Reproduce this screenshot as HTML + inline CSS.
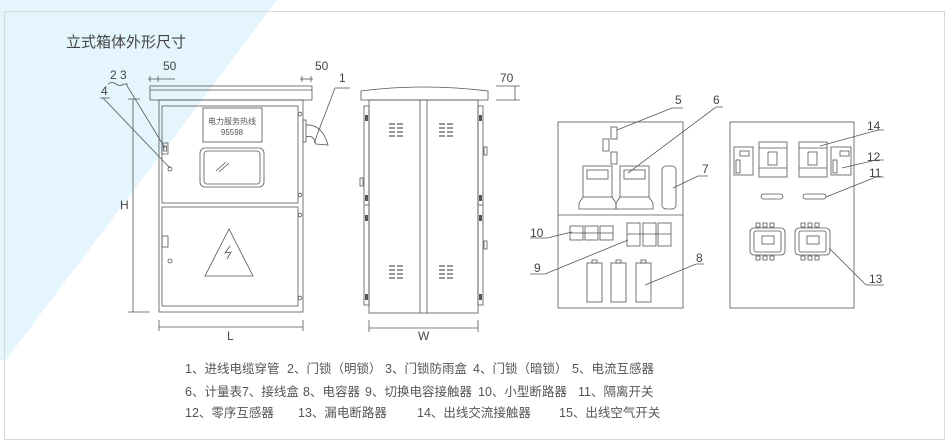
<!DOCTYPE html>
<html><head><meta charset="utf-8">
<style>
html,body{margin:0;padding:0;background:#fff;}
body{width:952px;height:445px;overflow:hidden;}
svg{display:block;font-family:"Liberation Sans","Noto Sans CJK SC",sans-serif;}
</style></head>
<body>
<svg width="952" height="445" viewBox="0 0 952 445" xmlns="http://www.w3.org/2000/svg">
<polygon points="0,0 277,0 6,360 0,360" fill="#e4f5fd"/>
<rect x="4.5" y="11.5" width="940" height="428" fill="none" stroke="#d8d8d8"/>
<text x="66" y="47" font-size="15" fill="#444">立式箱体外形尺寸</text>

<g fill="none" stroke="#555" stroke-width="0.8">
<rect x="150" y="86" width="162" height="14"/>
<line x1="150" y1="90" x2="312" y2="90"/>
<rect x="159" y="100" width="144" height="212"/>
<rect x="162" y="106" width="136" height="97"/>
<rect x="162" y="207" width="136" height="99"/>
<rect x="203" y="108" width="59" height="34"/>
<rect x="200" y="148" width="64" height="39" rx="5"/>
<rect x="204" y="151" width="56" height="33" rx="3"/>
<line x1="216" y1="171" x2="226" y2="162"/><line x1="219" y1="172" x2="229" y2="163"/>
<rect x="162" y="143" width="6" height="11"/><rect x="163.5" y="146" width="3" height="5"/>
<circle cx="170" cy="169" r="2"/>
<rect x="162" y="236" width="6" height="11"/>
<circle cx="170" cy="261" r="2"/>
<polygon points="229,229 205,276 253,276"/>
<polyline points="230,246 225,253 231,252 227,259"/>
<circle cx="300" cy="114" r="1.8"/><circle cx="300" cy="195" r="1.8"/>
<circle cx="300" cy="215" r="1.8"/><circle cx="300" cy="298" r="1.8"/>
<rect x="303" y="120" width="3" height="22"/>
<path d="M306,125 Q322,124 328,145 L316,144 Q313,134 306,137"/>
<polyline points="335,88 350,88"/><line x1="335" y1="88" x2="314" y2="143"/>
<path d="M108,84 q4,-3 8,0 q4,3 8,0 l4,0"/>
<line x1="126" y1="84" x2="165" y2="148"/>
<line x1="100" y1="98" x2="110" y2="98"/>
<line x1="103" y1="98" x2="170" y2="168"/>
<line x1="150" y1="76" x2="150" y2="82"/><line x1="158" y1="76" x2="158" y2="82"/>
<line x1="148" y1="79" x2="175" y2="79"/>
<line x1="302" y1="76" x2="302" y2="82"/><line x1="311" y1="76" x2="311" y2="82"/>
<line x1="300" y1="79" x2="313" y2="79"/>
<line x1="133" y1="99" x2="133" y2="312"/>
<line x1="128" y1="99" x2="140" y2="99"/><line x1="128" y1="312" x2="150" y2="312"/>
<line x1="159" y1="327" x2="303" y2="327"/>
<line x1="159" y1="320" x2="159" y2="331"/><line x1="303" y1="320" x2="303" y2="331"/>

<path d="M361,100 L361,91 Q392,87 424,87 Q456,87 488,91 L488,100 Z"/>
<rect x="369" y="100" width="109" height="213"/>
<line x1="420" y1="100" x2="420" y2="313"/><line x1="427" y1="100" x2="427" y2="313"/>
<rect x="364" y="106" width="5" height="199"/>
<rect x="478" y="106" width="5" height="199"/>
<line x1="364" y1="205" x2="369" y2="205"/><line x1="478" y1="205" x2="483" y2="205"/>
<rect x="484" y="147" width="3" height="8"/><rect x="484" y="241" width="3" height="8"/>
<rect x="360" y="178" width="3" height="8"/>
<line x1="369" y1="328" x2="478" y2="328"/>
<line x1="369" y1="320" x2="369" y2="332"/><line x1="478" y1="320" x2="478" y2="332"/>
<line x1="496" y1="86" x2="520" y2="86"/><line x1="496" y1="100" x2="520" y2="100"/>
<line x1="515" y1="86" x2="515" y2="100"/>
</g>
<g fill="#555">
<rect x="365" y="115" width="3" height="6"/><rect x="365" y="195" width="3" height="6"/>
<rect x="365" y="215" width="3" height="6"/><rect x="365" y="294" width="3" height="6"/>
<rect x="479" y="115" width="3" height="6"/><rect x="479" y="195" width="3" height="6"/>
<rect x="479" y="215" width="3" height="6"/><rect x="479" y="294" width="3" height="6"/>
</g>
<g stroke="#777" stroke-width="1.4" fill="none">
<path id="v" d="M389,124h6M389,128h6M389,132h6M389,136h6M397,124h6M397,128h6M397,132h6M397,136h6"/>
<use href="#v" x="50"/><use href="#v" y="142"/><use href="#v" x="50" y="142"/>
</g>

<g fill="none" stroke="#555" stroke-width="0.8">
<rect x="558" y="122" width="125" height="186"/>
<line x1="558" y1="215" x2="683" y2="215"/>
<rect x="611" y="127" width="6" height="12"/><rect x="603" y="139" width="6" height="12"/><rect x="611" y="152" width="6" height="12"/>
<rect x="583" y="166" width="29" height="31"/><rect x="587" y="170" width="21" height="9"/>
<path d="M583,197 L579,203 L579,209 L616,209 L616,203 L612,197"/>
<rect x="620" y="166" width="29" height="31"/><rect x="624" y="170" width="21" height="9"/>
<path d="M620,197 L616,203 L616,209 L653,209 L653,203 L649,197"/>
<rect x="662" y="166" width="14" height="43" rx="4"/>
<rect x="570" y="226" width="13" height="14"/><rect x="585" y="226" width="13" height="14"/><rect x="600" y="226" width="13" height="14"/>
<line x1="570" y1="233" x2="613" y2="233"/>
<rect x="627" y="223" width="13" height="23"/><rect x="643" y="223" width="13" height="23"/><rect x="658" y="223" width="13" height="23"/>
<line x1="627" y1="234" x2="671" y2="234"/>
<rect x="587" y="263" width="15" height="39"/><rect x="611" y="263" width="15" height="39"/><rect x="636" y="263" width="15" height="39"/>
<rect x="592" y="260" width="5" height="3"/><rect x="616" y="260" width="5" height="3"/><rect x="641" y="260" width="5" height="3"/>
<polyline points="617,130 672,108 683,108"/>
<polyline points="628,173 716,107 723,107"/>
<polyline points="673,188 698,176 708,176"/>
<polyline points="530,238 547,238 572,232"/>
<polyline points="530,274 545,274 628,240"/>
<polyline points="645,285 696,264 704,264"/>

<rect x="730" y="122" width="124" height="186"/>
<rect x="734" y="147" width="19" height="28"/><rect x="740" y="151" width="9" height="5"/><rect x="736" y="160" width="4" height="13"/>
<rect x="759" y="142" width="28" height="35"/><line x1="759" y1="148" x2="787" y2="148"/><line x1="759" y1="168" x2="787" y2="168"/><rect x="768" y="152" width="9" height="13"/>
<rect x="799" y="142" width="28" height="35"/><line x1="799" y1="148" x2="827" y2="148"/><line x1="799" y1="168" x2="827" y2="168"/><rect x="808" y="152" width="9" height="13"/>
<rect x="831" y="147" width="20" height="28"/><rect x="840" y="151" width="9" height="5"/><rect x="833" y="160" width="4" height="13"/>
<rect x="761" y="194" width="22" height="5" rx="2.5"/><rect x="803" y="194" width="23" height="5" rx="2.5"/>
<rect x="750" y="228" width="35" height="27" rx="4"/><rect x="754" y="231" width="27" height="21" rx="2"/><rect x="762" y="236" width="12" height="8"/>
<rect x="795" y="228" width="35" height="27" rx="4"/><rect x="799" y="231" width="27" height="21" rx="2"/><rect x="807" y="236" width="12" height="8"/>
<rect x="756" y="223" width="4" height="4"/><rect x="763" y="223" width="4" height="4"/><rect x="770" y="223" width="4" height="4"/>
<rect x="756" y="256" width="4" height="4"/><rect x="763" y="256" width="4" height="4"/><rect x="770" y="256" width="4" height="4"/>
<rect x="801" y="223" width="4" height="4"/><rect x="808" y="223" width="4" height="4"/><rect x="815" y="223" width="4" height="4"/>
<rect x="801" y="256" width="4" height="4"/><rect x="808" y="256" width="4" height="4"/><rect x="815" y="256" width="4" height="4"/>
<polyline points="820,146 878,130 884,130"/>
<polyline points="842,168 876,160 884,160"/>
<polyline points="826,197 876,177 884,177"/>
<polyline points="829,248 866,285 884,285"/>
</g>

<g fill="#444" font-size="12">
<text x="163" y="70">50</text><text x="315" y="70">50</text>
<text x="339" y="82">1</text>
<text x="110" y="79">2 3</text><text x="101" y="95">4</text>
<text x="120" y="209">H</text><text x="227" y="340">L</text><text x="418" y="340">W</text>
<text x="500" y="82">70</text>
<text x="675" y="104">5</text><text x="713" y="104">6</text><text x="702" y="173">7</text>
<text x="530" y="237">10</text><text x="534" y="272">9</text><text x="696" y="262">8</text>
<text x="867" y="130">14</text><text x="867" y="161">12</text><text x="869" y="177">11</text><text x="869" y="283">13</text>
</g>
<g fill="#555" font-size="8" text-anchor="middle">
<text x="232" y="124">电力服务热线</text><text x="232" y="135">95598</text>
</g>
<g fill="#555" font-size="12.5">
<text x="185" y="373">1、进线电缆穿管</text>
<text x="287" y="373">2、门锁（明锁）</text>
<text x="385" y="373">3、门锁防雨盒</text>
<text x="473" y="373">4、门锁（暗锁）</text>
<text x="572" y="373">5、电流互感器</text>
<text x="185" y="396">6、计量表7、接线盒</text>
<text x="303" y="396">8、电容器</text>
<text x="365" y="396">9、切换电容接触器</text>
<text x="478" y="396">10、小型断路器</text>
<text x="578" y="396">11、隔离开关</text>
<text x="185" y="417">12、零序互感器</text>
<text x="298" y="417">13、漏电断路器</text>
<text x="417" y="417">14、出线交流接触器</text>
<text x="559" y="417">15、出线空气开关</text>
</g>
</svg>
</body></html>
